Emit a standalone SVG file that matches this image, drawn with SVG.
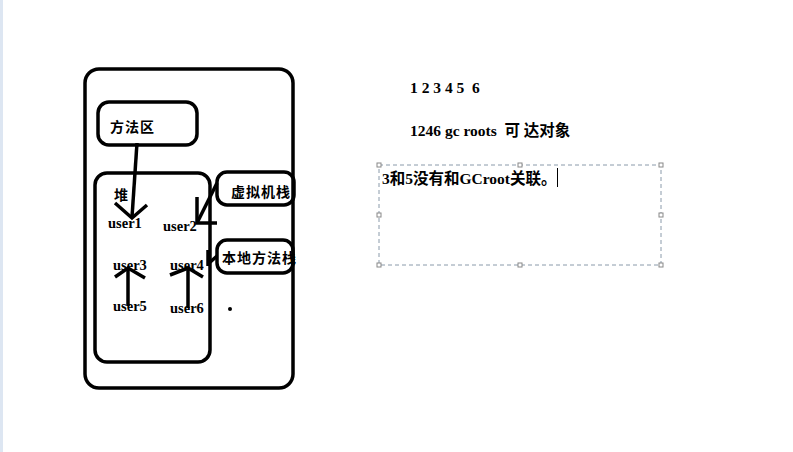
<svg xmlns="http://www.w3.org/2000/svg" width="793" height="452" viewBox="0 0 793 452">
<style>
.box{fill:none;stroke:#000;stroke-width:3.5;stroke-linejoin:round}
.ln{fill:none;stroke:#000;stroke-width:3.5;stroke-linecap:butt;stroke-linejoin:miter}
.t{font-family:"Liberation Serif","Noto Sans CJK SC",serif;font-weight:bold;font-size:14.5px;fill:#000}
.cn{font-family:"Noto Sans CJK SC",serif;font-weight:bold;font-size:14px;letter-spacing:1px;fill:#000}
.rt{font-family:"Liberation Serif","Noto Sans CJK SC",serif;font-weight:bold;font-size:15.5px;fill:#000}
.dash{fill:none;stroke:#8a9aaa;stroke-width:1;stroke-dasharray:4 3}
.h{fill:#fff;stroke:#888;stroke-width:1}
</style>
<rect x="0" y="0" width="793" height="452" fill="#fff"/>
<rect x="0" y="0" width="3" height="452" fill="#dde6f2"/>
<g id="outer"><rect class="box" x="85" y="69" width="208" height="319" rx="14"/></g>
<g id="method-area"><rect class="box" x="98" y="102" width="99" height="43" rx="11"/><text class="cn" x="110" y="132">方法区</text></g>
<g id="heap"><rect class="box" x="95" y="173" width="115" height="189" rx="12"/><text class="cn" x="114" y="200">堆</text></g>
<g id="vm-stack"><rect class="box" x="217" y="172" width="77" height="33" rx="10"/><text class="cn" x="231" y="197" letter-spacing="2">虚拟机栈</text></g>
<g id="native-stack"><rect class="box" x="217" y="240" width="76" height="33" rx="10"/><text class="cn" x="222" y="263">本地方法栈</text></g>
<g id="user1"><text class="t" x="108" y="228">user1</text></g>
<g id="user2"><text class="t" x="163" y="231">user2</text></g>
<g id="user3"><text class="t" x="113" y="270">user3</text></g>
<g id="user4"><text class="t" x="170" y="270">user4</text></g>
<g id="user5"><text class="t" x="113" y="311">user5</text></g>
<g id="user6"><text class="t" x="170" y="313">user6</text></g>
<g id="connectors">
<path class="ln" d="M137 143 L132 217"/>
<path class="ln" d="M115 203 L132 218 L147 205"/>
<path class="ln" d="M217 183 L197 223"/>
<path class="ln" d="M197 197 L197 223 L217 223"/>
<path class="ln" d="M217 256 L208 264"/>
<path class="ln" d="M208 250 L208 266"/>
<path class="ln" d="M128 306 L128 268"/>
<path class="ln" d="M115 277 L128 268 L145 278"/>
<path class="ln" d="M188 308 L188 268"/>
<path class="ln" d="M170 275 L188 268 L203 277"/>
</g>
<circle cx="230" cy="309" r="2" fill="#000"/>
<text class="rt" x="410" y="93" xml:space="preserve">1 2 3 4 5  6</text>
<text class="rt" x="410" y="136" xml:space="preserve">1246 gc roots  可 达对象</text>
<rect class="dash" x="379" y="165" width="282" height="100"/>
<g>
<rect class="h" x="377" y="163" width="4" height="4"/>
<rect class="h" x="518" y="163" width="4" height="4"/>
<rect class="h" x="659" y="163" width="4" height="4"/>
<rect class="h" x="377" y="213" width="4" height="4"/>
<rect class="h" x="659" y="213" width="4" height="4"/>
<rect class="h" x="377" y="263" width="4" height="4"/>
<rect class="h" x="518" y="263" width="4" height="4"/>
<rect class="h" x="659" y="263" width="4" height="4"/>
</g>
<text class="rt" x="382" y="184">3和5没有和GCroot关联。</text>
<line x1="557.5" y1="168" x2="557.5" y2="187" stroke="#000" stroke-width="1"/>
</svg>
